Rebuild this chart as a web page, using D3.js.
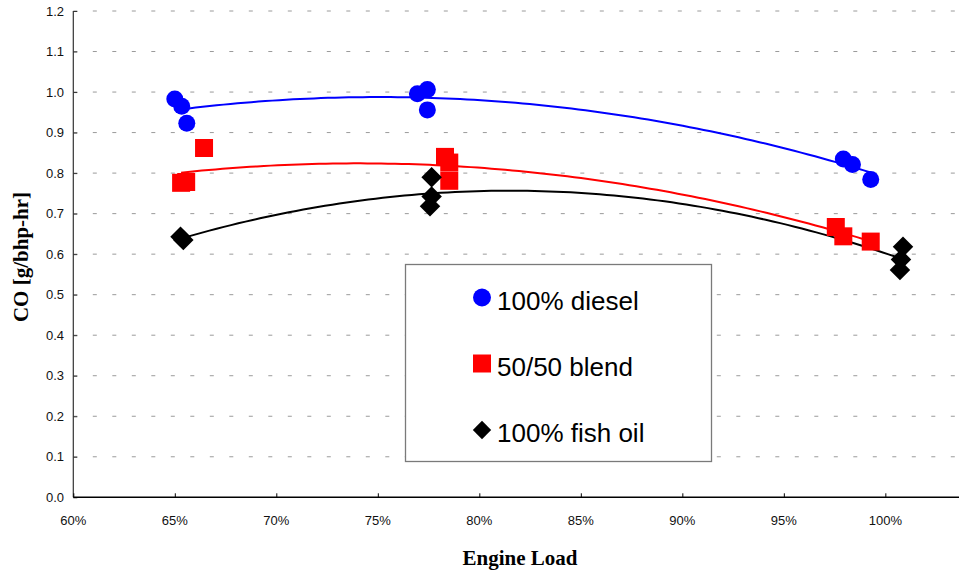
<!DOCTYPE html>
<html>
<head>
<meta charset="utf-8">
<script src="https://cdn.jsdelivr.net/npm/d3@7/dist/d3.min.js"></script>
<style>
  html, body { margin: 0; padding: 0; background: #fff; }
  svg { display: block; }
</style>
</head>
<body>
<svg id="chart" width="959" height="573"></svg>
<script>
// Engine load (fraction of rated) and CO emissions [g/bhp-hr] per fuel
const dieselLoad = [0.650, 0.6534, 0.6559, 0.7695, 0.7744, 0.7744, 0.9793, 0.9838, 0.9928];
const dieselCO   = [0.983, 0.965, 0.923, 0.996, 1.006, 0.956, 0.835, 0.821, 0.784];

const blendLoad = [0.6531, 0.6556, 0.6644, 0.7831, 0.7852, 0.7852, 0.9756, 0.9793, 0.9928];
const blendCO   = [0.776, 0.778, 0.862, 0.840, 0.826, 0.781, 0.667, 0.644, 0.631];

const fishLoad = [0.6528, 0.6542, 0.7765, 0.7765, 0.7757, 1.0087, 1.0077, 1.0072];
const fishCO   = [0.643, 0.635, 0.790, 0.742, 0.718, 0.618, 0.587, 0.561];

const xTicks = [0.60, 0.65, 0.70, 0.75, 0.80, 0.85, 0.90, 0.95, 1.00];
const yTicks = [0.0, 0.1, 0.2, 0.3, 0.4, 0.5, 0.6, 0.7, 0.8, 0.9, 1.0, 1.1, 1.2];

const seriesNames = ["100% diesel", "50/50 blend", "100% fish oil"];

const series = [
  { name: seriesNames[0], load: dieselLoad, co: dieselCO, color: "#0000ff", shape: "circle" },
  { name: seriesNames[1], load: blendLoad,  co: blendCO,  color: "#ff0000", shape: "square" },
  { name: seriesNames[2], load: fishLoad,   co: fishCO,   color: "#000000", shape: "diamond" }
];

const svg = d3.select("#chart");
const plotLeft = 73.3, plotRight = 957, plotTop = 11, plotBottom = 497.3;

const x = d3.scaleLinear().domain([0.6, 1.0353]).range([plotLeft, plotRight]);
const y = d3.scaleLinear().domain([0, 1.2]).range([plotBottom, plotTop]);

// dashed horizontal gridlines
svg.append("g")
  .selectAll("line")
  .data(yTicks.filter(d => d > 0))
  .join("line")
  .attr("x1", plotLeft).attr("x2", plotRight - 2)
  .attr("y1", d => y(d)).attr("y2", d => y(d))
  .attr("stroke", "#9a9a9a")
  .attr("stroke-width", 1)
  .attr("stroke-dasharray", "4,15.5");

// axes with inside ticks
const yAxis = d3.axisRight(y).tickValues(yTicks).tickSize(4).tickFormat("");
const gy = svg.append("g").attr("transform", `translate(${plotLeft},0)`).call(yAxis);
gy.select(".domain").remove();
gy.selectAll(".tick line").attr("stroke", "#333");
svg.append("line")
  .attr("x1", plotLeft).attr("x2", plotLeft).attr("y1", plotTop).attr("y2", plotBottom)
  .attr("stroke", "#333").attr("stroke-width", 1.2);

const xAxis = d3.axisTop(x).tickValues(xTicks).tickSize(4).tickFormat("");
const gx = svg.append("g").attr("transform", `translate(0,${plotBottom})`).call(xAxis);
gx.select(".domain").remove();
gx.selectAll(".tick line").attr("stroke", "#000");
svg.append("line")
  .attr("x1", plotLeft).attr("x2", plotRight + 2).attr("y1", plotBottom).attr("y2", plotBottom)
  .attr("stroke", "#000").attr("stroke-width", 1.4);

// tick labels
svg.append("g")
  .selectAll("text")
  .data(yTicks)
  .join("text")
  .attr("x", 64)
  .attr("y", d => y(d))
  .attr("dy", "0.35em")
  .attr("text-anchor", "end")
  .attr("font-family", "Liberation Sans, Arial, sans-serif")
  .attr("font-size", 13)
  .attr("fill", "#111")
  .text(d3.format(".1f"));

svg.append("g")
  .selectAll("text")
  .data(xTicks)
  .join("text")
  .attr("x", d => x(d))
  .attr("y", 524.7)
  .attr("text-anchor", "middle")
  .attr("font-family", "Liberation Sans, Arial, sans-serif")
  .attr("font-size", 13)
  .attr("fill", "#111")
  .text(d3.format(".0%"));

// axis titles
svg.append("text")
  .attr("x", 520).attr("y", 565)
  .attr("text-anchor", "middle")
  .attr("font-family", "Liberation Serif, Times New Roman, serif")
  .attr("font-weight", "bold")
  .attr("font-size", 21)
  .text("Engine Load");

svg.append("text")
  .attr("transform", "translate(28,257) rotate(-90)")
  .attr("text-anchor", "middle")
  .attr("font-family", "Liberation Serif, Times New Roman, serif")
  .attr("font-weight", "bold")
  .attr("font-size", 21)
  .text("CO [g/bhp-hr]");

// second-order polynomial least-squares trend
function quadFit(xs, ys) {
  const n = xs.length;
  const m = d3.mean(xs);
  const u = xs.map(v => v - m);
  const s = k => d3.sum(u, v => Math.pow(v, k));
  const t = k => d3.sum(u, (v, i) => Math.pow(v, k) * ys[i]);
  const A = [[n, s(1), s(2)], [s(1), s(2), s(3)], [s(2), s(3), s(4)]];
  const B = [t(0), t(1), t(2)];
  // Gaussian elimination
  for (let i = 0; i < 3; i++) {
    for (let j = i + 1; j < 3; j++) {
      const f = A[j][i] / A[i][i];
      for (let k = i; k < 3; k++) A[j][k] -= f * A[i][k];
      B[j] -= f * B[i];
    }
  }
  const c = [0, 0, 0];
  for (let i = 2; i >= 0; i--) {
    let acc = B[i];
    for (let k = i + 1; k < 3; k++) acc -= A[i][k] * c[k];
    c[i] = acc / A[i][i];
  }
  return v => c[0] + c[1] * (v - m) + c[2] * (v - m) * (v - m);
}

const line = d3.line().x(d => x(d[0])).y(d => y(d[1]));

series.forEach(sr => {
  const f = quadFit(sr.load, sr.co);
  const [lo, hi] = d3.extent(sr.load);
  const pts = d3.range(0, 101).map(i => {
    const v = lo + (hi - lo) * i / 100;
    return [v, f(v)];
  });
  svg.append("path")
    .attr("d", line(pts))
    .attr("fill", "none")
    .attr("stroke", sr.color)
    .attr("stroke-width", 2);
});

const symbolPath = {
  circle: d3.symbol(d3.symbolCircle, Math.PI * 8.5 * 8.5)(),
  square: d3.symbol(d3.symbolSquare, 18 * 18)(),
  diamond: d3.symbol(d3.symbolSquare, 14.5 * 14.5)()
};

series.forEach(sr => {
  svg.append("g")
    .selectAll("path")
    .data(sr.load.map((v, i) => [v, sr.co[i]]))
    .join("path")
    .attr("d", symbolPath[sr.shape])
    .attr("transform", d => `translate(${x(d[0])},${y(d[1])})` + (sr.shape === "diamond" ? " rotate(45)" : ""))
    .attr("fill", sr.color);
});

// legend
const lg = svg.append("g");
lg.append("rect")
  .attr("x", 405.5).attr("y", 264.5)
  .attr("width", 306).attr("height", 197)
  .attr("fill", "#fff")
  .attr("stroke", "#7a7a7a")
  .attr("stroke-width", 1.3);

const legendSymbol = {
  circle: d3.symbol(d3.symbolCircle, Math.PI * 9 * 9)(),
  square: d3.symbol(d3.symbolSquare, 18 * 18)(),
  diamond: d3.symbol(d3.symbolSquare, 13 * 13)()
};
const rowY = [297.5, 363.5, 430];

series.forEach((sr, i) => {
  lg.append("path")
    .attr("d", legendSymbol[sr.shape])
    .attr("transform", `translate(482,${rowY[i]})` + (sr.shape === "diamond" ? " rotate(45)" : ""))
    .attr("fill", sr.color);
  lg.append("text")
    .attr("x", 497)
    .attr("y", rowY[i] + 12)
    .attr("font-family", "Liberation Sans, Arial, sans-serif")
    .attr("font-size", 26)
    .attr("fill", "#000")
    .text(sr.name);
});
</script>
</body>
</html>
